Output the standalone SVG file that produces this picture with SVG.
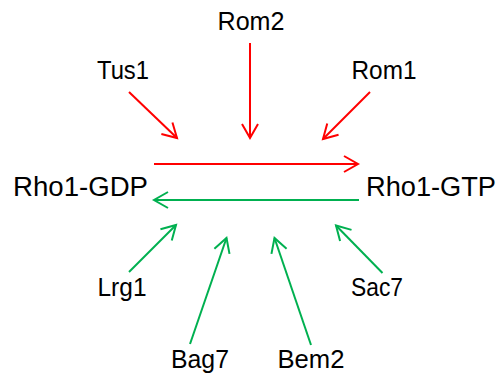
<svg xmlns="http://www.w3.org/2000/svg" width="502" height="376" viewBox="0 0 502 376">
  <style>
    .lbl { font-family: "Liberation Sans", Arial, sans-serif; font-size: 26px; fill: #000; text-anchor: middle; }
    .big { font-family: "Liberation Sans", Arial, sans-serif; font-size: 27px; fill: #000; }
    .act { stroke: #FF0000; stroke-width: 2; fill: none; marker-end: url(#headRed); }
    .inh { stroke: #00B050; stroke-width: 2; fill: none; marker-end: url(#headGreen); }
  </style>
  <defs>
    <marker id="headRed" markerUnits="userSpaceOnUse" markerWidth="20" markerHeight="20" viewBox="-16 -10 20 20" refX="0" refY="0" orient="auto">
      <path d="M-14,-8 L0,0 L-14,8" fill="none" stroke="#FF0000" stroke-width="2"/>
    </marker>
    <marker id="headGreen" markerUnits="userSpaceOnUse" markerWidth="20" markerHeight="20" viewBox="-16 -10 20 20" refX="0" refY="0" orient="auto">
      <path d="M-14,-8 L0,0 L-14,8" fill="none" stroke="#00B050" stroke-width="2"/>
    </marker>
  </defs>

  <rect width="502" height="376" fill="#fff"/>

  <g id="connectors">
    <!-- GEFs: activation of Rho1 -->
    <line class="act" x1="129" y1="92" x2="177" y2="138"/>
    <line class="act" x1="250" y1="43" x2="250" y2="138"/>
    <line class="act" x1="370" y1="92" x2="323" y2="139"/>
    <line class="act" x1="154" y1="164" x2="358" y2="164"/>
    <!-- GAPs: inactivation of Rho1 -->
    <line class="inh" x1="359" y1="200" x2="154" y2="200"/>
    <line class="inh" x1="129" y1="272" x2="176" y2="225"/>
    <line class="inh" x1="190" y1="344" x2="226.5" y2="238"/>
    <line class="inh" x1="311" y1="345" x2="274.5" y2="238"/>
    <line class="inh" x1="382.5" y1="273" x2="336" y2="225.5"/>
  </g>

  <g id="rho1-gdp"><text class="big" x="13" y="196" textLength="135" lengthAdjust="spacingAndGlyphs">Rho1-GDP</text></g>
  <g id="rho1-gtp"><text class="big" x="366" y="196" textLength="130" lengthAdjust="spacingAndGlyphs">Rho1-GTP</text></g>

  <g id="rom2"><text class="lbl" x="251" y="30" textLength="67" lengthAdjust="spacingAndGlyphs">Rom2</text></g>
  <g id="tus1"><text class="lbl" x="123" y="79" textLength="52" lengthAdjust="spacingAndGlyphs">Tus1</text></g>
  <g id="rom1"><text class="lbl" x="384" y="79" textLength="65" lengthAdjust="spacingAndGlyphs">Rom1</text></g>
  <g id="lrg1"><text class="lbl" x="122" y="296" textLength="49" lengthAdjust="spacingAndGlyphs">Lrg1</text></g>
  <g id="sac7"><text class="lbl" x="377" y="296" textLength="52" lengthAdjust="spacingAndGlyphs">Sac7</text></g>
  <g id="bag7"><text class="lbl" x="200" y="368" textLength="58" lengthAdjust="spacingAndGlyphs">Bag7</text></g>
  <g id="bem2"><text class="lbl" x="311" y="368" textLength="67" lengthAdjust="spacingAndGlyphs">Bem2</text></g>
</svg>
